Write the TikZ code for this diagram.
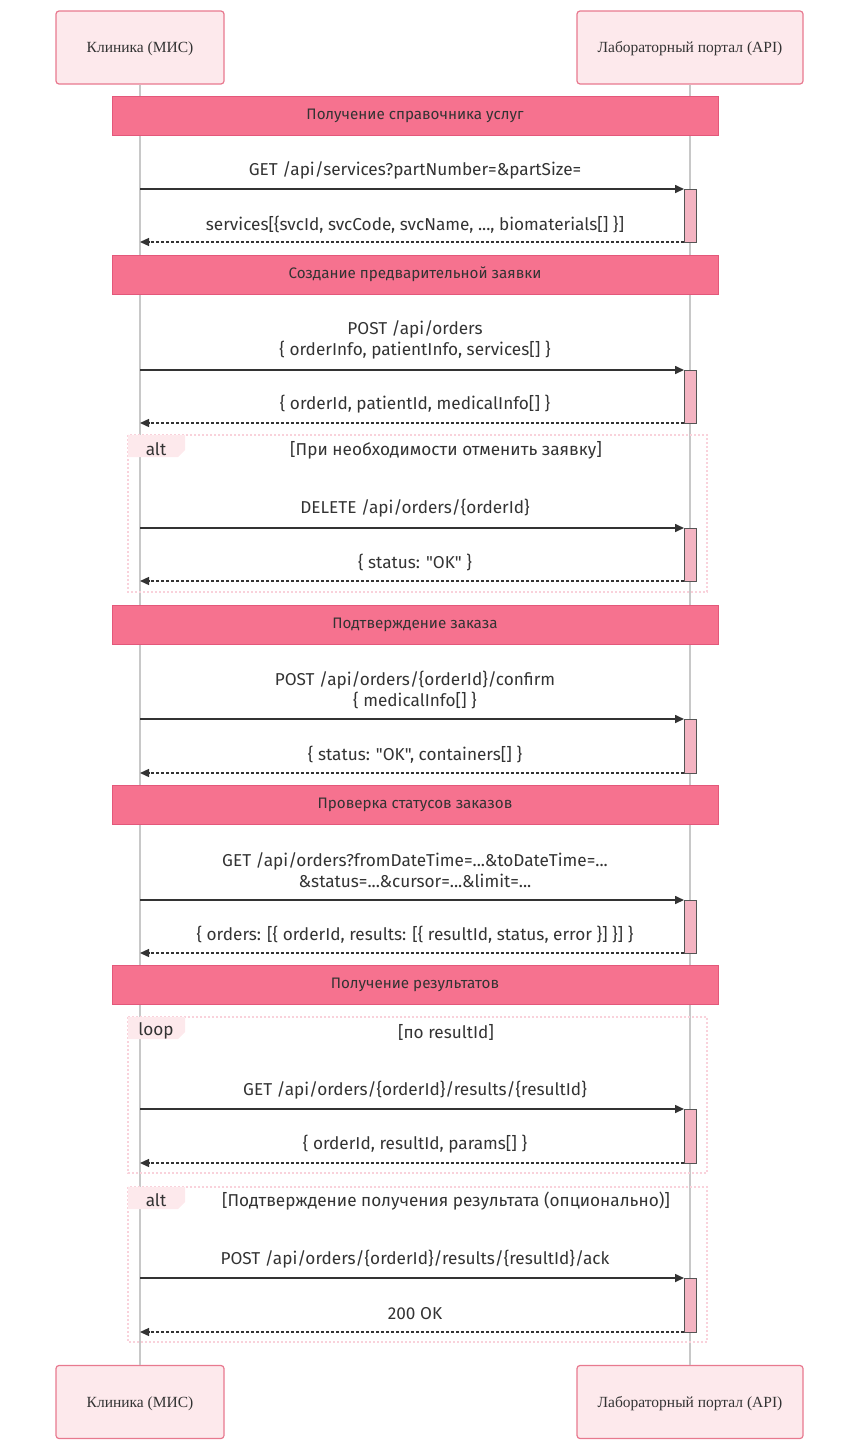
\documentclass[tikz,border=0pt]{standalone}
\usepackage{fontspec}
\setmainfont{Liberation Serif}
\newfontfamily\msgfont{Fira Sans}
\usetikzlibrary{arrows.meta}
\definecolor{actfill}{HTML}{FDE9EC}
\definecolor{actdraw}{HTML}{E8798F}
\definecolor{notefill}{HTML}{F6728F}
\definecolor{notedraw}{HTML}{E3587A}
\definecolor{barfill}{HTML}{F4B4C2}
\definecolor{bardraw}{HTML}{555555}
\definecolor{lifecol}{HTML}{C8C8C8}
\definecolor{framecol}{HTML}{F9D2DB}
\definecolor{txt}{HTML}{333333}
\tikzset{
  actor/.style={draw=actdraw, fill=actfill, line width=1.2pt, rounded corners=3pt,
    minimum height=73pt, font=\fontsize{15.5}{18}\selectfont, text=txt, inner sep=0pt},
  actortext/.style={font=\fontsize{15.5}{18}\selectfont, text=txt, inner sep=0pt},
  notebox/.style={draw=notedraw, fill=notefill, line width=1pt, minimum width=606pt,
    minimum height=39pt, font=\msgfont\fontsize{15.2}{17}\selectfont, text=txt, inner sep=0pt},
  actbar/.style={draw=bardraw, fill=barfill, line width=1pt, minimum width=12pt, inner sep=0pt, outer sep=0pt},
  lifeline/.style={draw=lifecol, line width=1.2pt},
  msgtext/.style={font=\msgfont\fontsize{17.2}{21}\selectfont, text=txt, align=center, inner sep=0pt},
  callarrow/.style={draw=txt, line width=1.6pt, -{Triangle[length=9pt,width=8pt]}},
  retarrow/.style={draw=txt, line width=1.3pt, dash pattern=on 3pt off 2pt, -{Triangle[length=9pt,width=8pt]}},
  framebox/.style={draw=framecol, line width=1.4pt, dash pattern=on 2pt off 2pt},
  tabfill/.style={fill=actfill},
  framelabel/.style={font=\msgfont\fontsize{17.2}{19}\selectfont, text=txt, inner sep=0pt},
}
\begin{document}
\begin{tikzpicture}[x=1pt,y=-1pt]
\useasboundingbox (0,0) rectangle (859,1440);
% actors
\node[actor, minimum width=168pt] (a1) at (140,47.5) {};
\node[actor, minimum width=226pt] (a2) at (690,47.5) {};
\node[actor, minimum width=168pt] (b1) at (140,1402) {};
\node[actor, minimum width=226pt] (b2) at (690,1402) {};
\node[actortext] (a1t) at (140,49) {Клиника (МИС)};
\node[actortext] (a2t) at (690,49) {Лабораторный портал (API)};
\node[actortext] (b1t) at (140,1403.5) {Клиника (МИС)};
\node[actortext] (b2t) at (690,1403.5) {Лабораторный портал (API)};
% lifelines
\draw[lifeline] (a1.south) -- (b1.north);
\draw[lifeline] (a2.south) -- (b2.north);
% frames
\draw[framebox] (128,435) rectangle (707,592);
\fill[tabfill] (128,435) -- (185,435) -- (185,450) -- (178,457) -- (128,457) -- cycle;
\node[framelabel] (f1l) at (156,449) {alt};
\node[framelabel] (f1c) at (446,450) {[При необходимости отменить заявку]};
\draw[framebox] (128,1017) rectangle (707,1173);
\fill[tabfill] (128,1017) -- (185,1017) -- (185,1032) -- (178,1039) -- (128,1039) -- cycle;
\node[framelabel] (f2l) at (156,1031) {loop};
\node[framelabel] (f2c) at (446,1032) {[по resultId]};
\draw[framebox] (128,1187) rectangle (707,1342);
\fill[tabfill] (128,1187) -- (185,1187) -- (185,1202) -- (178,1209) -- (128,1209) -- cycle;
\node[framelabel] (f3l) at (156,1200) {alt};
\node[framelabel] (f3c) at (446,1201) {[Подтверждение получения результата (опционально)]};
% notes
\node[notebox] (n1) at (415,115.5) {Получение справочника услуг};
\node[notebox] (n2) at (415,274.5) {Создание предварительной заявки};
\node[notebox] (n3) at (415,624.5) {Подтверждение заказа};
\node[notebox] (n4) at (415,804.5) {Проверка статусов заказов};
\node[notebox] (n5) at (415,984.5) {Получение результатов};
% activation bars
\node[actbar, minimum height=53pt] (k1) at (690,215.5) {};
\node[actbar, minimum height=53pt] (k2) at (690,396.5) {};
\node[actbar, minimum height=53pt] (k3) at (690,554.5) {};
\node[actbar, minimum height=54pt] (k4) at (690,746) {};
\node[actbar, minimum height=53pt] (k5) at (690,926.5) {};
\node[actbar, minimum height=54pt] (k6) at (690,1136) {};
\node[actbar, minimum height=54pt] (k7) at (690,1305) {};
% lifeline coordinates
\coordinate (s1) at (140,189);
\coordinate (r1) at (140,242);
\coordinate (s2) at (140,370);
\coordinate (r2) at (140,423);
\coordinate (s3) at (140,528);
\coordinate (r3) at (140,581);
\coordinate (s4) at (140,719);
\coordinate (r4) at (140,773);
\coordinate (s5) at (140,900);
\coordinate (r5) at (140,953);
\coordinate (s6) at (140,1109);
\coordinate (r6) at (140,1163);
\coordinate (s7) at (140,1278);
\coordinate (r7) at (140,1332);
% messages
\draw[callarrow] (s1) -- (k1.north west);
\draw[retarrow] (k1.south west) -- (r1);
\node[msgtext] (t1) at (415,170.5) {GET /api/services?partNumber=\&partSize=};
\node[msgtext] (u1) at (415,224.5) {services[\{svcId, svcCode, svcName, ..., biomaterials[] \}]};
\draw[callarrow] (s2) -- (k2.north west);
\draw[retarrow] (k2.south west) -- (r2);
\node[msgtext] (t2) at (415,340) {POST /api/orders\\\{ orderInfo, patientInfo, services[] \}};
\node[msgtext] (u2) at (415,404.5) {\{ orderId, patientId, medicalInfo[] \}};
\draw[callarrow] (s3) -- (k3.north west);
\draw[retarrow] (k3.south west) -- (r3);
\node[msgtext] (t3) at (415,508.5) {DELETE /api/orders/\{orderId\}};
\node[msgtext] (u3) at (415,562.5) {\{ status: "OK" \}};
\draw[callarrow] (s4) -- (k4.north west);
\draw[retarrow] (k4.south west) -- (r4);
\node[msgtext] (t4) at (415,690) {POST /api/orders/\{orderId\}/confirm\\\{ medicalInfo[] \}};
\node[msgtext] (u4) at (415,754.5) {\{ status: "OK", containers[] \}};
\draw[callarrow] (s5) -- (k5.north west);
\draw[retarrow] (k5.south west) -- (r5);
\node[msgtext] (t5) at (415,870) {GET /api/orders?fromDateTime=...\&toDateTime=...\\\&status=...\&cursor=...\&limit=...};
\node[msgtext] (u5) at (415,934.5) {\{ orders: [\{ orderId, results: [\{ resultId, status, error \}] \}] \}};
\draw[callarrow] (s6) -- (k6.north west);
\draw[retarrow] (k6.south west) -- (r6);
\node[msgtext] (t6) at (415,1090.5) {GET /api/orders/\{orderId\}/results/\{resultId\}};
\node[msgtext] (u6) at (415,1144.5) {\{ orderId, resultId, params[] \}};
\draw[callarrow] (s7) -- (k7.north west);
\draw[retarrow] (k7.south west) -- (r7);
\node[msgtext] (t7) at (415,1259.5) {POST /api/orders/\{orderId\}/results/\{resultId\}/ack};
\node[msgtext] (u7) at (415,1313.5) {200 OK};
\end{tikzpicture}
\end{document}
